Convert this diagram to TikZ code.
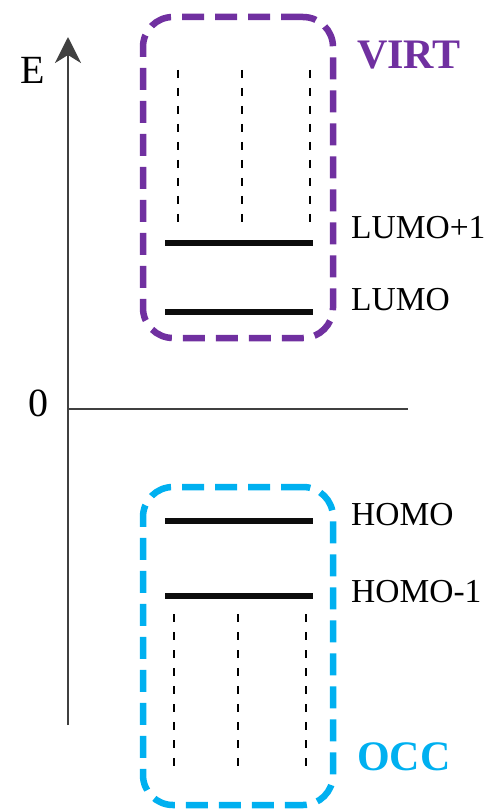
\documentclass[tikz,border=0pt]{standalone}
\usepackage{fontspec}
\setmainfont{Liberation Serif}
\usetikzlibrary{arrows.meta}
\definecolor{virtc}{HTML}{7030A0}
\definecolor{occc}{HTML}{00B0F0}
\definecolor{axisc}{HTML}{404040}
\begin{document}
\begin{tikzpicture}[x=1pt,y=-1pt,
  axisline/.style={draw=axisc,line width=2.8pt},
  groupbox/.style={line width=6.5pt,rounded corners=30pt,dash pattern=on 22pt off 11pt,inner sep=0pt,minimum width=190pt},
  level/.style={draw=black!95,line width=6.5pt},
  orbit/.style={draw=black,line width=2.5pt,dash pattern=on 8pt off 10pt},
  lab/.style={font=\fontsize{33.5}{33.5}\selectfont,inner sep=0pt,anchor=west},
  axlab/.style={font=\fontsize{40}{40}\selectfont,inner sep=0pt},
  grouplab/.style={font=\fontsize{42}{42}\selectfont\bfseries,inner sep=0pt,anchor=west}]
\useasboundingbox (0,0) rectangle (490,810);
% axes
\coordinate (ybot) at (68,725);
\coordinate (ytop) at (68,37);
\draw[axisline,-{Stealth[length=26pt,width=26pt,inset=8pt]}] (ybot) -- (ytop);
\coordinate (x0) at (68,409);
\coordinate (x1) at (408,409);
\draw[axisline] (x0) -- (x1);
\node[axlab] (E) at (33,70) {E};
\node[axlab] (zero) at (38,403) {0};
% boxes
\node[groupbox,draw=virtc,minimum height=321pt] (virt) at (238,177.5) {};
\node[groupbox,draw=occc,minimum height=318pt] (occ) at (238,646) {};
% virtual levels
\foreach \i/\x in {1/178,2/242,3/310}{
  \coordinate (vt\i) at (\x,70);
  \coordinate (vb\i) at (\x,229);
  \draw[orbit] (vt\i) -- (vb\i);
}
\coordinate (l1a) at (165,243); \coordinate (l1b) at (313,243);
\coordinate (l0a) at (165,312); \coordinate (l0b) at (313,312);
\draw[level] (l1a) -- (l1b);
\draw[level] (l0a) -- (l0b);
% occupied levels
\coordinate (h0a) at (165,521); \coordinate (h0b) at (313,521);
\coordinate (h1a) at (165,596); \coordinate (h1b) at (313,596);
\draw[level] (h0a) -- (h0b);
\draw[level] (h1a) -- (h1b);
\foreach \i/\x in {1/174,2/238,3/306}{
  \coordinate (ot\i) at (\x,614);
  \coordinate (ob\i) at (\x,773);
  \draw[orbit] (ot\i) -- (ob\i);
}
% labels
\node[lab] (lumo1) at (351,228) {LUMO+1};
\node[lab] (lumo) at (351,300) {LUMO};
\node[lab] (homo) at (351,515) {HOMO};
\node[lab] (homo1) at (351,592) {HOMO-1};
\node[grouplab,text=virtc] (virtlab) at (357,55) {VIRT};
\node[grouplab,text=occc] (occlab) at (357,757) {OCC};
\end{tikzpicture}
\end{document}
